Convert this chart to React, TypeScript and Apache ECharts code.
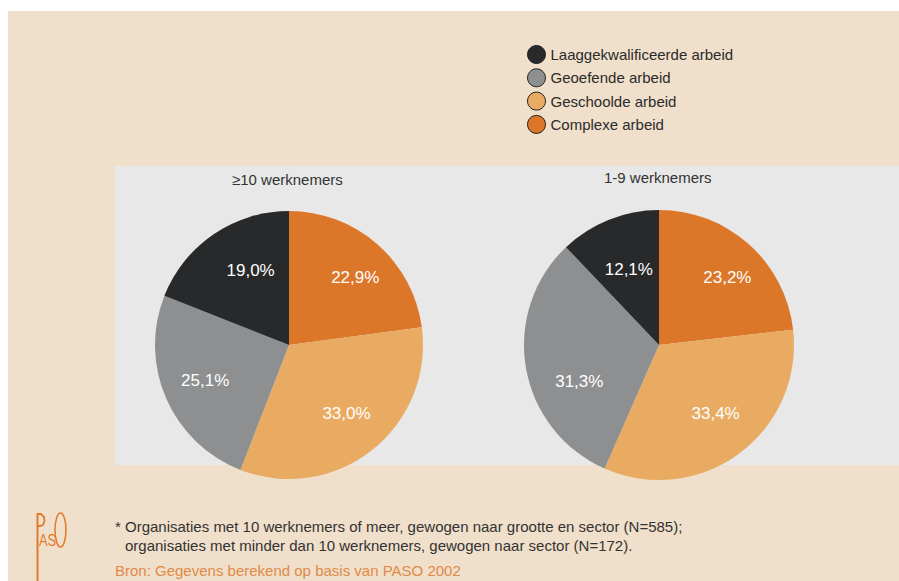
import React, { useEffect, useRef } from "react";
import * as echarts from "echarts";

const categories = ["Complexe arbeid", "Geschoolde arbeid", "Geoefende arbeid", "Laaggekwalificeerde arbeid"];
const legendOrder = ["Laaggekwalificeerde arbeid", "Geoefende arbeid", "Geschoolde arbeid", "Complexe arbeid"];
const valuesLarge = [22.9, 33.0, 25.1, 19.0];
const valuesSmall = [23.2, 33.4, 31.3, 12.1];
const pieTitles = ["≥10 werknemers", "1-9 werknemers"];
const footnote1 = "* Organisaties met 10 werknemers of meer, gewogen naar grootte en sector (N=585);";
const footnote2 = "organisaties met minder dan 10 werknemers, gewogen naar sector (N=172).";
const sourceText = "Bron: Gegevens berekend op basis van PASO 2002";

const colorMap: Record<string, string> = {
  "Complexe arbeid": "#dc772a",
  "Geschoolde arbeid": "#e9ab62",
  "Geoefende arbeid": "#8e8f91",
  "Laaggekwalificeerde arbeid": "#28292b",
};

// label nudges (layout only)
const labelNudgeLarge = [[6, 1], [1, -3], [0, -1], [13, 1]];
const labelNudgeSmall = [[7, 1], [2, -6], [11, 21], [4, 10]];

const FONT = "'Liberation Sans', Arial, sans-serif";
const ORANGE = "#e07b2e";

export default function App() {
  const ref = useRef<HTMLDivElement>(null);
  useEffect(() => {
    if (!ref.current) return;
    const chart = echarts.init(ref.current, null, { renderer: "svg" });
    const fmt = (v: number) => v.toFixed(1).replace(".", ",") + "%";
    const mkPie = (vals: number[], cx: number, r: number, nudge: number[][]) => [
      {
        type: "pie",
        center: [cx, 345],
        radius: [0, r],
        startAngle: 90,
        clockwise: true,
        silent: true,
        z: 2,
        label: { show: false },
        labelLine: { show: false },
        data: categories.map((c, i) => ({ name: c, value: vals[i], itemStyle: { color: colorMap[c] } })),
      },
      {
        type: "pie",
        center: [cx, 345],
        radius: [r * 0.32, r],
        startAngle: 90,
        clockwise: true,
        silent: true,
        z: 3,
        itemStyle: { color: "rgba(0,0,0,0)" },
        label: {
          show: true,
          position: "inside",
          color: "#ffffff",
          fontSize: 17,
          fontFamily: FONT,
          formatter: (p: any) => fmt(p.value),
        },
        labelLine: { show: false },
        data: categories.map((c, i) => ({ name: "lbl-" + c, value: vals[i], label: { offset: nudge[i] } })),
      },
    ];
    chart.setOption({
      animation: false,
      backgroundColor: "#ffffff",
      title: [
        { text: pieTitles[0], left: 227, top: 167, textStyle: { fontSize: 15, fontWeight: "normal", color: "#333333", fontFamily: FONT } },
        { text: pieTitles[1], left: 599, top: 165, textStyle: { fontSize: 15, fontWeight: "normal", color: "#333333", fontFamily: FONT } },
      ],
      legend: {
        orient: "vertical",
        left: 522,
        top: 40,
        itemWidth: 18,
        itemHeight: 18,
        itemGap: 4.3,
        icon: "circle",
        selectedMode: false,
        textStyle: { fontSize: 15, color: "#2b2b2b", fontFamily: FONT },
        data: legendOrder.map((n) => ({ name: n, itemStyle: { color: colorMap[n], borderColor: "#222222", borderWidth: 1 } })),
      },
      graphic: [
        { type: "rect", z: -10, shape: { x: 8, y: 11, width: 891, height: 570 }, style: { fill: "#f0dfca" }, silent: true },
        { type: "rect", z: -9, shape: { x: 115, y: 166, width: 784, height: 299 }, style: { fill: "#e8e8e8" }, silent: true },
        { type: "text", x: 115, y: 526, style: { text: footnote1, fontSize: 15, fill: "#333333", fontFamily: FONT, textVerticalAlign: "middle" } },
        { type: "text", x: 125, y: 545, style: { text: footnote2, fontSize: 15, fill: "#333333", fontFamily: FONT, textVerticalAlign: "middle" } },
        { type: "text", x: 115, y: 570, style: { text: sourceText, fontSize: 15, fill: "#e08a48", fontFamily: FONT, textVerticalAlign: "middle" } },
        { type: "line", shape: { x1: 37.5, y1: 513, x2: 37.5, y2: 581 }, style: { stroke: ORANGE, lineWidth: 2 } },
        { type: "polyline", shape: { points: [[37.5, 514], [41, 514], [44, 517], [44.5, 521], [43, 525], [40, 526], [37.5, 526]] }, style: { stroke: ORANGE, lineWidth: 1.8, fill: "none" } },
        { type: "text", x: 39, y: 540, scaleX: 0.75, style: { text: "AS", fontSize: 17, fill: ORANGE, fontFamily: FONT, textVerticalAlign: "middle" } },
        { type: "ellipse", shape: { cx: 60.5, cy: 530, rx: 5.5, ry: 17 }, style: { stroke: ORANGE, lineWidth: 1.5, fill: "none" } },
      ],
      series: [...mkPie(valuesLarge, 289, 134, labelNudgeLarge), ...mkPie(valuesSmall, 659, 135, labelNudgeSmall)],
    });
    return () => chart.dispose();
  }, []);
  return <div ref={ref} style={{ position: "fixed", left: 0, top: 0, width: 899, height: 581 }} />;
}
